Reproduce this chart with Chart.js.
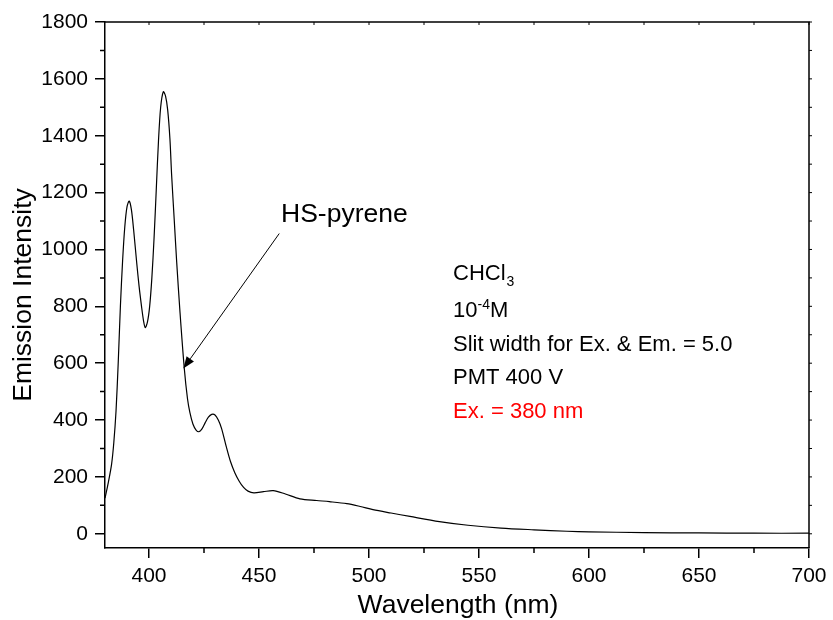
<!DOCTYPE html>
<html>
<head>
<meta charset="utf-8">
<script src="https://cdn.jsdelivr.net/npm/chart.js@4.4.0/dist/chart.umd.min.js"></script>
<style>
body{margin:0;background:#fff;}
#wrap{width:833px;height:620px;}
</style>
</head>
<body>
<div id="wrap"><canvas id="emissionChart"></canvas></div>
<script>
//Data
var wavelength = [380, 381.5, 383, 384, 385, 386, 387, 388, 389, 390, 391, 392, 393, 394.4, 395.5, 396.6, 397.5, 398.3,
  399.3, 400.3, 401.3, 402.3, 403.3, 404.3, 405.3, 406.5, 407.5, 408.5, 409.5, 410.3, 411.5, 412.6, 414.1, 416,
  417.5, 418.6, 420, 421.4, 422.7, 424, 425.5, 427, 428.5, 430, 431.5, 433, 435, 437, 439, 441, 443, 445, 447.7,
  452, 456.5, 462, 468.6, 476.2, 482, 489.9, 496, 501.8, 510, 518.6, 532, 545, 560, 575, 590, 600, 625, 650, 675, 700];
var intensity = [125, 180, 245, 320, 430, 600, 800, 960, 1080, 1150, 1170, 1140, 1070, 954, 870, 800, 750, 725,
  745, 800, 900, 1040, 1210, 1380, 1500, 1555, 1540, 1490, 1390, 1260, 1100, 954, 778, 585,
  475, 426, 385, 365, 359, 368, 390, 410, 420, 418, 400, 370, 310, 255, 215, 185, 163, 150, 144,
  148, 152, 140, 123, 117, 113, 106, 96, 85, 73, 61, 43, 30, 20, 14, 9, 7, 4, 3, 2, 2];

var xTicks = [400, 450, 500, 550, 600, 650, 700];
var xMinor = [425, 475, 525, 575, 625, 675];
var yTicks = [0, 200, 400, 600, 800, 1000, 1200, 1400, 1600, 1800];
var yMinor = [100, 300, 500, 700, 900, 1100, 1300, 1500, 1700];

var xTitle = 'Wavelength (nm)';
var yTitle = 'Emission Intensity';

//Annotation text (positions in data units)
var labelText = 'HS-pyrene';
var labelAt = [460, 1095];
var arrowFrom = [459.2, 1056];
var arrowTo = [415.6, 581];

var notesX = 538.2;
var notes = [
  {text: 'CHCl', sub: '3', y: 892, color: '#000'},
  {text: '10', sup: '-4', after: 'M', y: 761, color: '#000'},
  {text: 'Slit width for Ex. & Em. = 5.0', y: 642, color: '#000'},
  {text: 'PMT 400 V', y: 527, color: '#000'},
  {text: 'Ex. = 380 nm', y: 407, color: '#ff0000'}
];

var fontFamily = "'Liberation Sans', Arial, sans-serif";

var points = wavelength.map(function(w, i){ return {x: w, y: intensity[i]}; });

var extras = {
  id: 'extras',
  afterDraw: function(chart){
    var ctx = chart.ctx;
    var xs = chart.scales.x;
    var ys = chart.scales.y;
    var a = chart.chartArea;
    ctx.save();
    ctx.strokeStyle = '#000';
    ctx.lineWidth = 1.5;
    ctx.beginPath();
    //minor ticks, outward
    xMinor.forEach(function(v){
      var px = xs.getPixelForValue(v);
      ctx.moveTo(px, a.bottom); ctx.lineTo(px, a.bottom + 5);
    });
    yMinor.forEach(function(v){
      var py = ys.getPixelForValue(v);
      ctx.moveTo(a.left, py); ctx.lineTo(a.left - 5, py);
    });
    //top and right frame
    ctx.moveTo(a.left, a.top); ctx.lineTo(a.right, a.top); ctx.lineTo(a.right, a.bottom);
    ctx.stroke();

    ctx.lineWidth = 1;
    ctx.beginPath();
    xTicks.concat(xMinor).forEach(function(v){
      var px = xs.getPixelForValue(v);
      ctx.moveTo(px, a.top); ctx.lineTo(px, a.top + 3);
    });
    yTicks.concat(yMinor).forEach(function(v){
      var py = ys.getPixelForValue(v);
      ctx.moveTo(a.right, py); ctx.lineTo(a.right + 3, py);
    });
    ctx.stroke();

    //arrow
    var x1 = xs.getPixelForValue(arrowFrom[0]), y1 = ys.getPixelForValue(arrowFrom[1]);
    var x2 = xs.getPixelForValue(arrowTo[0]), y2 = ys.getPixelForValue(arrowTo[1]);
    var ang = Math.atan2(y2 - y1, x2 - x1);
    var headLen = 12, headW = 4.5;
    var bx = x2 - headLen * Math.cos(ang), by = y2 - headLen * Math.sin(ang);
    ctx.beginPath();
    ctx.moveTo(x1, y1); ctx.lineTo(bx, by);
    ctx.stroke();
    ctx.fillStyle = '#000';
    ctx.beginPath();
    ctx.moveTo(x2, y2);
    ctx.lineTo(bx + headW * Math.sin(ang), by - headW * Math.cos(ang));
    ctx.lineTo(bx - headW * Math.sin(ang), by + headW * Math.cos(ang));
    ctx.closePath();
    ctx.fill();

    //axis titles
    ctx.textBaseline = 'alphabetic';
    ctx.textAlign = 'center';
    ctx.font = '26.5px ' + fontFamily;
    ctx.fillText(xTitle, 458, 613);
    ctx.save();
    ctx.translate(31, 295);
    ctx.rotate(-Math.PI / 2);
    ctx.fillText(yTitle, 0, 0);
    ctx.restore();

    //labels
    ctx.textAlign = 'left';
    ctx.fillText(labelText, xs.getPixelForValue(labelAt[0]), ys.getPixelForValue(labelAt[1]));

    var nx = xs.getPixelForValue(notesX);
    notes.forEach(function(n){
      var ny = ys.getPixelForValue(n.y);
      ctx.fillStyle = n.color;
      ctx.font = '22px ' + fontFamily;
      ctx.fillText(n.text, nx, ny);
      var w = ctx.measureText(n.text).width;
      if(n.sub){
        ctx.font = '14px ' + fontFamily;
        ctx.fillText(n.sub, nx + w + 1, ny + 6);
      }
      if(n.sup){
        ctx.font = '14px ' + fontFamily;
        ctx.fillText(n.sup, nx + w, ny - 8);
        var w2 = ctx.measureText(n.sup).width;
        ctx.font = '22px ' + fontFamily;
        ctx.fillText(n.after, nx + w + w2, ny);
      }
    });
    ctx.restore();
  }
};

var emissionChart = new Chart(document.getElementById('emissionChart'), {
  type: 'line',
  data: {
    datasets: [{
      data: points,
      borderColor: '#000',
      borderWidth: 1.2,
      pointRadius: 0,
      fill: false,
      tension: 0.3
    }]
  },
  options: {
    responsive: true,
    maintainAspectRatio: false,
    animation: false,
    layout: {padding: {left: 0, top: 22, right: 24, bottom: 0}},
    plugins: {legend: {display: false}, tooltip: {enabled: false}},
    scales: {
      x: {
        type: 'linear',
        min: 380,
        max: 700,
        afterBuildTicks: function(s){ s.ticks = xTicks.map(function(v){ return {value: v}; }); },
        afterFit: function(s){ s.height = 72; },
        grid: {drawOnChartArea: false, drawTicks: true, tickLength: 10, color: '#000', lineWidth: 1.5},
        border: {color: '#000', width: 1.5},
        ticks: {color: '#000', font: {family: fontFamily, size: 21}, padding: 6, maxRotation: 0,
          callback: function(v){ return String(v); }}
      },
      y: {
        min: -50,
        max: 1800,
        afterBuildTicks: function(s){ s.ticks = yTicks.map(function(v){ return {value: v}; }); },
        afterFit: function(s){ s.width = 105; },
        grid: {drawOnChartArea: false, drawTicks: true, tickLength: 10, color: '#000', lineWidth: 1.5},
        border: {color: '#000', width: 1.5},
        ticks: {color: '#000', font: {family: fontFamily, size: 21}, padding: 7,
          callback: function(v){ return String(v); }}
      }
    }
  },
  plugins: [extras]
});
</script>
</body>
</html>
